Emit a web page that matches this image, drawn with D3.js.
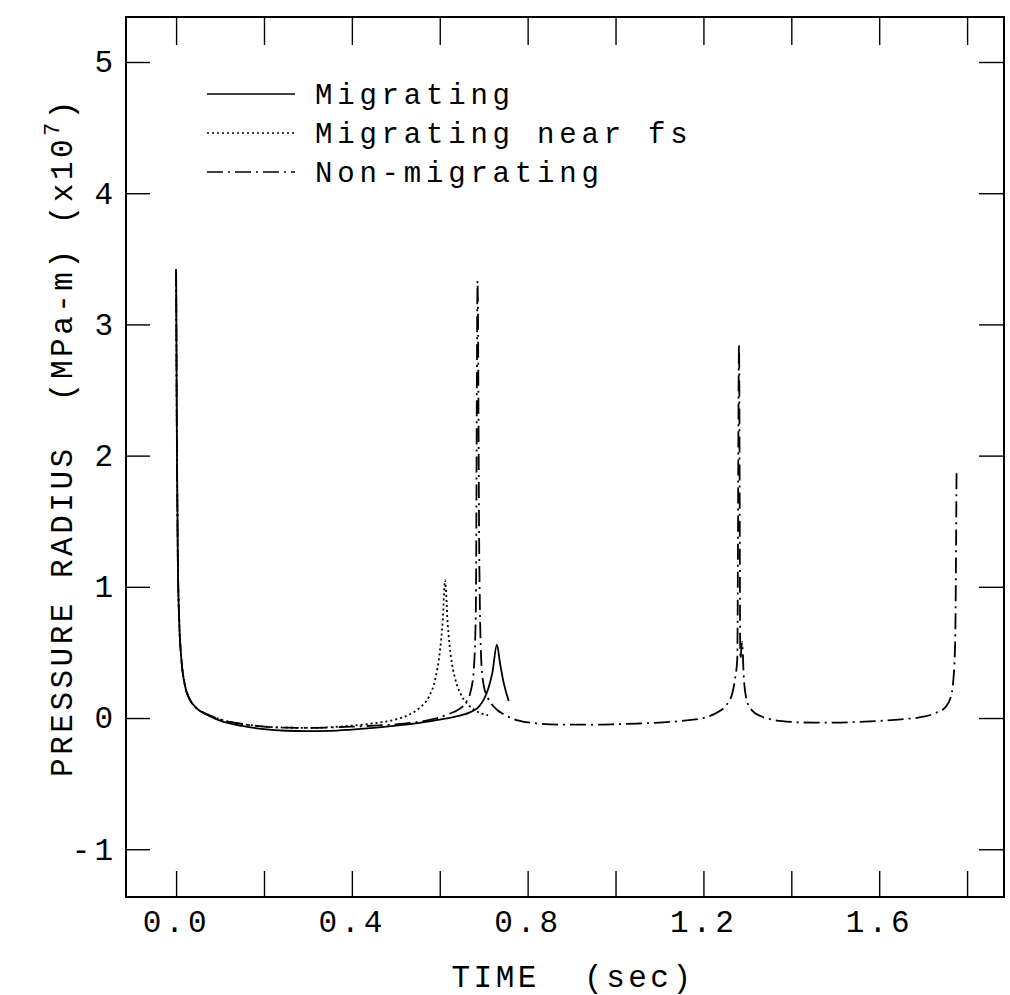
<!DOCTYPE html>
<html>
<head>
<meta charset="utf-8">
<script src="https://cdn.jsdelivr.net/npm/d3@7"></script>
<style>
  body { margin: 0; background: #fff; }
  text { font-family: "Liberation Mono", "DejaVu Sans Mono", monospace; fill: #000; }
</style>
</head>
<body>
<div id="chart"></div>
<script>
// time (sec) and pressure radius (x10^7 MPa-m)
const migT = [0, 0.002, 0.004, 0.007, 0.012, 0.02, 0.03, 0.045, 0.07, 0.10, 0.15, 0.20, 0.25, 0.30, 0.35, 0.40, 0.45, 0.50, 0.55, 0.60, 0.64, 0.67, 0.69, 0.70, 0.71, 0.72, 0.73, 0.737, 0.746, 0.757];
const migV = [3.42, 2.0, 1.2, 0.75, 0.45, 0.25, 0.15, 0.08, 0.025, -0.02, -0.06, -0.085, -0.097, -0.10, -0.098, -0.088, -0.075, -0.058, -0.038, -0.012, 0.015, 0.045, 0.09, 0.14, 0.22, 0.35, 0.56, 0.42, 0.26, 0.13];

const nearT = [0, 0.002, 0.004, 0.007, 0.012, 0.02, 0.03, 0.045, 0.07, 0.10, 0.15, 0.20, 0.25, 0.30, 0.35, 0.40, 0.45, 0.50, 0.53, 0.555, 0.575, 0.59, 0.60, 0.607, 0.612, 0.618, 0.625, 0.635, 0.648, 0.665, 0.685, 0.71];
const nearV = [3.42, 2.0, 1.2, 0.75, 0.45, 0.25, 0.15, 0.08, 0.03, -0.01, -0.045, -0.065, -0.073, -0.075, -0.07, -0.058, -0.04, -0.01, 0.025, 0.08, 0.16, 0.3, 0.5, 0.75, 1.05, 0.72, 0.48, 0.3, 0.18, 0.1, 0.05, 0.02];

const nonT = [0, 0.002, 0.004, 0.007, 0.012, 0.02, 0.03, 0.045, 0.07, 0.10, 0.15, 0.20, 0.25, 0.30, 0.35, 0.40, 0.45, 0.50, 0.55, 0.59, 0.62, 0.645, 0.66, 0.67, 0.677, 0.682, 0.686, 0.69, 0.695, 0.70, 0.71, 0.725, 0.75, 0.78, 0.82, 0.88, 0.95, 1.00, 1.05, 1.10, 1.15, 1.20, 1.23, 1.25, 1.265, 1.272, 1.277, 1.281, 1.284, 1.288, 1.292, 1.30, 1.31, 1.33, 1.36, 1.40, 1.45, 1.50, 1.55, 1.60, 1.65, 1.70, 1.73, 1.75, 1.762, 1.769, 1.773, 1.776];
const nonV = [3.42, 2.0, 1.2, 0.75, 0.45, 0.25, 0.15, 0.08, 0.03, -0.01, -0.045, -0.065, -0.073, -0.075, -0.072, -0.066, -0.058, -0.048, -0.03, -0.005, 0.03, 0.07, 0.12, 0.2, 0.35, 0.8, 3.33, 1.2, 0.4, 0.25, 0.15, 0.08, 0.02, -0.02, -0.04, -0.05, -0.05, -0.047, -0.042, -0.035, -0.022, 0.0, 0.04, 0.09, 0.18, 0.3, 0.45, 2.85, 0.45, 0.58, 0.3, 0.12, 0.06, 0.015, -0.015, -0.03, -0.035, -0.035, -0.03, -0.022, -0.01, 0.01, 0.04, 0.08, 0.15, 0.3, 0.6, 1.9];

const xTicks = [0, 0.2, 0.4, 0.6, 0.8, 1.0, 1.2, 1.4, 1.6, 1.8];
const xLabels = ["0.0", "", "0.4", "", "0.8", "", "1.2", "", "1.6", ""];
const yTicks = [-1, 0, 1, 2, 3, 4, 5];

const legendNames = ["Migrating", "Migrating near fs", "Non-migrating"];
const legendDash = ["none", "2,3", "16,5,2,5"];

const W = 1010, H = 995;
const plotL = 126, plotR = 1004, plotT = 17, plotB = 897;

const svg = d3.select("#chart").append("svg")
  .attr("width", W)
  .attr("height", H);

const x = d3.scaleLinear().domain([-0.114, 1.884]).range([plotL, plotR]);
const y = d3.scaleLinear().domain([-1.364, 5.343]).range([plotB, plotT]);

// frame
svg.append("rect")
  .attr("x", plotL).attr("y", plotT)
  .attr("width", plotR - plotL).attr("height", plotB - plotT)
  .style("fill", "none").style("stroke", "#000").style("stroke-width", 2);

const styleAxis = g => {
  g.select(".domain").remove();
  g.selectAll("line").style("stroke", "#000").style("stroke-width", 1.4);
  g.selectAll("text").style("font-size", "31px").style("letter-spacing", "4px")
    .style("font-family", "'Liberation Mono', 'DejaVu Sans Mono', monospace");
};

svg.append("g")
  .attr("transform", `translate(0,${plotB})`)
  .call(d3.axisBottom(x).tickValues(xTicks).tickSize(-26).tickPadding(13)
    .tickFormat((d, i) => xLabels[i]))
  .call(styleAxis);

svg.append("g")
  .attr("transform", `translate(0,${plotT})`)
  .call(d3.axisTop(x).tickValues(xTicks).tickSize(-28).tickFormat(""))
  .call(styleAxis);

svg.append("g")
  .attr("transform", `translate(${plotL},0)`)
  .call(d3.axisLeft(y).tickValues(yTicks).tickSize(-24).tickPadding(9)
    .tickFormat(d => d < 0 ? "-" + Math.abs(d) : d))
  .call(styleAxis);

svg.append("g")
  .attr("transform", `translate(${plotR},0)`)
  .call(d3.axisRight(y).tickValues(yTicks).tickSize(-25).tickFormat(""))
  .call(styleAxis);

// curves
const line = d3.line()
  .x(d => x(d[0]))
  .y(d => y(d[1]))
  .curve(d3.curveMonotoneX);

const series = [
  { t: migT, v: migV, dash: legendDash[0] },
  { t: nearT, v: nearV, dash: legendDash[1] },
  { t: nonT, v: nonV, dash: legendDash[2] }
];

series.forEach(s => {
  svg.append("path")
    .datum(s.t.map((t, i) => [t, s.v[i]]))
    .attr("d", line)
    .style("fill", "none")
    .style("stroke", "#000")
    .style("stroke-width", 1.8)
    .style("stroke-dasharray", s.dash);
});

// legend
const legend = svg.append("g").attr("transform", "translate(207,94)");
legendNames.forEach((name, i) => {
  const row = legend.append("g").attr("transform", `translate(0,${i * 39})`);
  row.append("line")
    .attr("x1", 0).attr("x2", 88)
    .style("stroke", "#000").style("stroke-width", 1.7)
    .style("stroke-dasharray", legendDash[i]);
  row.append("text")
    .attr("x", 108).attr("y", 10)
    .style("font-size", "29px")
    .style("letter-spacing", "4.8px")
    .text(name);
});

// axis titles
svg.append("text")
  .attr("transform", `translate(573,987)`)
  .style("text-anchor", "middle")
  .style("font-size", "31px")
  .style("letter-spacing", "3.5px")
  .attr("xml:space", "preserve")
  .text("TIME  (sec)");

const yTitle = svg.append("text")
  .attr("transform", "translate(72,437) rotate(-90)")
  .style("text-anchor", "middle")
  .style("font-size", "31px")
  .style("letter-spacing", "3.5px")
  .attr("xml:space", "preserve");
yTitle.append("tspan").text("PRESSURE RADIUS  (MPa-m) (x10");
yTitle.append("tspan").attr("dy", -13).style("font-size", "22px").text("7");
yTitle.append("tspan").attr("dy", 13).text(")");
</script>
</body>
</html>
